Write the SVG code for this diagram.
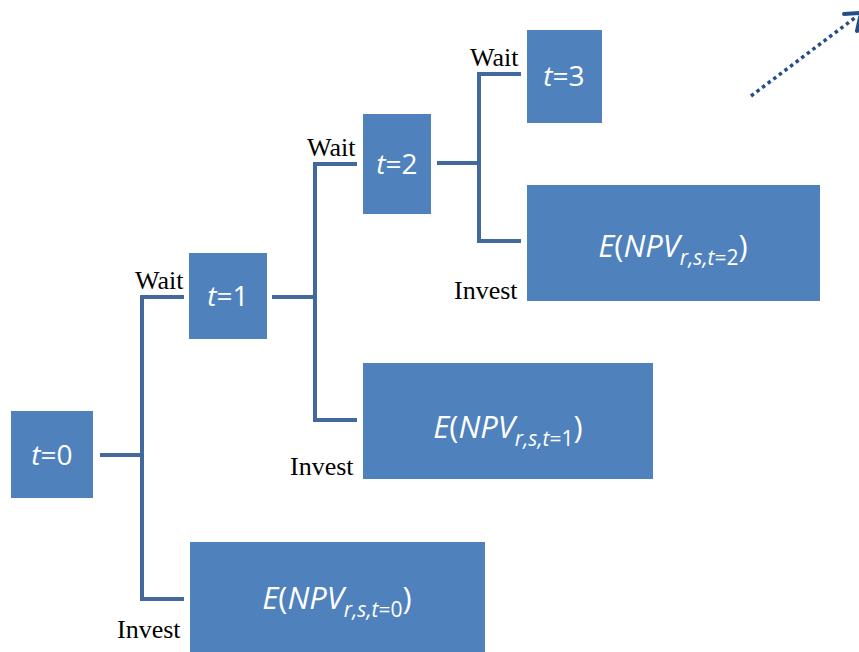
<svg xmlns="http://www.w3.org/2000/svg" width="859" height="652" viewBox="0 0 859 652">
  <style>
    .box { fill: #4f81bd; }
    .lbl { fill: #ffffff; font-family: "Open Sans", "Liberation Sans", sans-serif; font-size: 28px; text-anchor: middle; }
    .ev { fill: #ffffff; font-family: "Open Sans", "Liberation Sans", sans-serif; font-size: 31px; text-anchor: middle; }
    .it { font-style: italic; }
    .sub { font-size: 21px; }
    .cap { fill: #000000; font-family: "Liberation Serif", "Times New Roman", serif; font-size: 26px; }
    .wire { fill: none; stroke: #41699d; stroke-width: 4; }
    .trend { fill: none; stroke: #244f86; }
  </style>
  <rect width="859" height="652" fill="#ffffff"/>

  <!-- connectors -->
  <g id="connectors" class="wire">
    <path d="M100,455 H142"/>
    <path d="M184,297 H142 V599 H184"/>
    <path d="M272,297 H315"/>
    <path d="M357,164 H315 V420 H357"/>
    <path d="M437,163 H479"/>
    <path d="M521,74 H479 V241 H521"/>
    <!-- dotted trend arrow running off the top-right corner -->
    <path class="trend" d="M751,96 L856,17" stroke-width="3.5" stroke-dasharray="3.5 3.5"/>
    <path class="trend" d="M844,14 L861,13 L857,31" stroke-width="4" stroke-linecap="round" stroke-linejoin="miter"/>
  </g>

  <g id="node-t0">
    <rect class="box" x="11" y="411" width="82" height="87"/>
    <text class="lbl" x="52" y="465"><tspan class="it">t</tspan>=0</text>
  </g>
  <g id="node-t1">
    <rect class="box" x="189" y="253" width="78" height="86"/>
    <text class="lbl" x="228" y="306"><tspan class="it">t</tspan>=1</text>
  </g>
  <g id="node-t2">
    <rect class="box" x="363" y="114" width="68" height="100"/>
    <text class="lbl" x="397" y="174"><tspan class="it">t</tspan>=2</text>
  </g>
  <g id="node-t3">
    <rect class="box" x="527" y="30" width="75" height="93"/>
    <text class="lbl" x="564" y="86"><tspan class="it">t</tspan>=3</text>
  </g>
  <g id="node-npv0">
    <rect class="box" x="190" y="542" width="295" height="110"/>
    <text class="ev" x="337" y="609"><tspan class="it">E</tspan>(<tspan class="it">NPV</tspan><tspan class="sub it" dy="8">r,s,t</tspan><tspan class="sub">=0</tspan><tspan dy="-8">)</tspan></text>
  </g>
  <g id="node-npv1">
    <rect class="box" x="363" y="363" width="290" height="116"/>
    <text class="ev" x="508" y="438"><tspan class="it">E</tspan>(<tspan class="it">NPV</tspan><tspan class="sub it" dy="8">r,s,t</tspan><tspan class="sub">=1</tspan><tspan dy="-8">)</tspan></text>
  </g>
  <g id="node-npv2">
    <rect class="box" x="527" y="185" width="293" height="116"/>
    <text class="ev" x="673" y="257"><tspan class="it">E</tspan>(<tspan class="it">NPV</tspan><tspan class="sub it" dy="8">r,s,t</tspan><tspan class="sub">=2</tspan><tspan dy="-8">)</tspan></text>
  </g>

  <!-- branch captions -->
  <g id="captions">
    <text class="cap" x="135" y="289">Wait</text>
    <text class="cap" x="117" y="638">Invest</text>
    <text class="cap" x="307" y="156">Wait</text>
    <text class="cap" x="290" y="475">Invest</text>
    <text class="cap" x="470" y="66">Wait</text>
    <text class="cap" x="454" y="299">Invest</text>
  </g>
</svg>
